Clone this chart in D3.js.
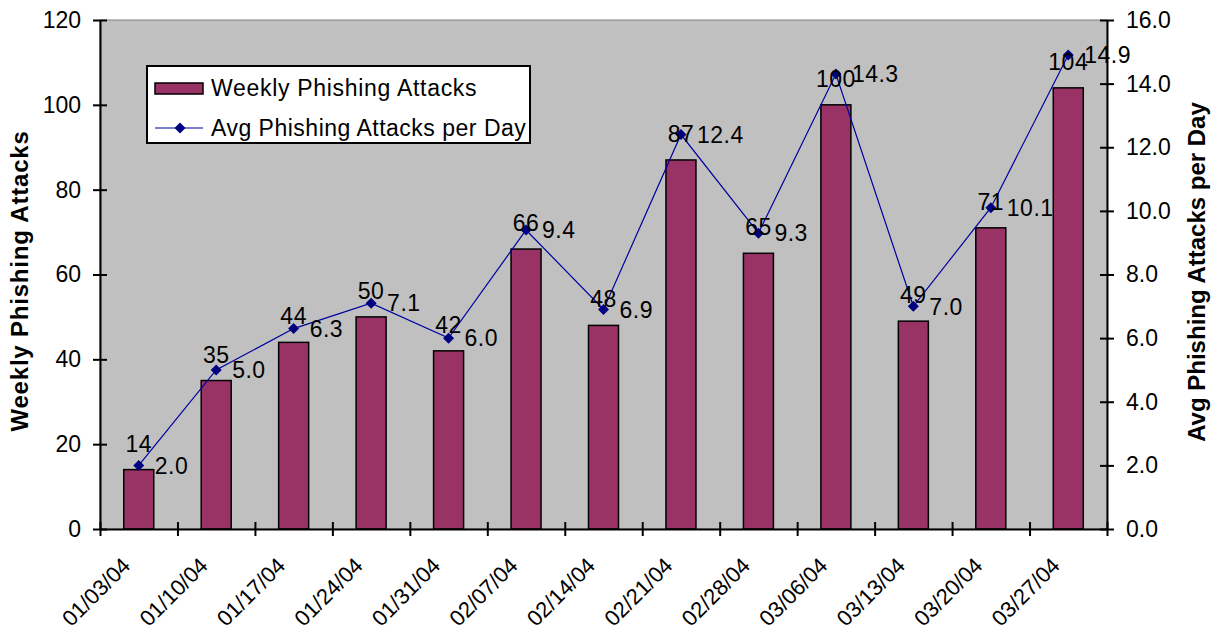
<!DOCTYPE html>
<html>
<head>
<meta charset="utf-8">
<script src="https://cdn.jsdelivr.net/npm/d3@7"></script>
<style>
  body { margin: 0; background: #fff; }
  text { font-family: "Liberation Sans", Arial, sans-serif; fill: #000; }
</style>
</head>
<body>
<div id="chart"></div>
<script>
// data
const weeks = ['01/03/04', '01/10/04', '01/17/04', '01/24/04', '01/31/04', '02/07/04', '02/14/04',
  '02/21/04', '02/28/04', '03/06/04', '03/13/04', '03/20/04', '03/27/04'];
const weekly = [14, 35, 44, 50, 42, 66, 48, 87, 65, 100, 49, 71, 104];
const perDay = [2.0, 5.0, 6.3, 7.1, 6.0, 9.4, 6.9, 12.4, 9.3, 14.3, 7.0, 10.1, 14.9];
const leftTicks = [0, 20, 40, 60, 80, 100, 120];
const rightTicks = [0, 2, 4, 6, 8, 10, 12, 14, 16];

const W = 1211, H = 631;
const m = {top: 20, right: 104, bottom: 102, left: 100};
const iw = W - m.left - m.right;
const ih = H - m.top - m.bottom;

const svg = d3.select('#chart').append('svg')
  .attr('width', W)
  .attr('height', H);

const x = d3.scaleBand().domain(weeks).range([0, iw]).paddingInner(0).paddingOuter(0);
const yL = d3.scaleLinear().domain([0, 120]).range([ih, 0]);
const yR = d3.scaleLinear().domain([0, 16]).range([ih, 0]);

const g = svg.append('g').attr('transform', `translate(${m.left},${m.top})`);

// plot background
g.append('rect')
  .attr('width', iw).attr('height', ih)
  .style('fill', '#c0c0c0')
  .style('stroke', '#808080')
  .style('stroke-width', 1);

// bars
const bw = 30;
g.append('g').selectAll('rect')
  .data(weeks)
  .join('rect')
  .attr('x', (d, i) => x(d) + x.bandwidth() / 2 - bw / 2)
  .attr('y', (d, i) => yL(weekly[i]))
  .attr('width', bw)
  .attr('height', (d, i) => ih - yL(weekly[i]))
  .style('fill', '#993366')
  .style('stroke', '#000')
  .style('stroke-width', 1.5);

// line
const cx = d => x(d) + x.bandwidth() / 2;
const line = d3.line()
  .x((d, i) => cx(weeks[i]))
  .y(d => yR(d));
g.append('path')
  .datum(perDay)
  .attr('d', line)
  .style('fill', 'none')
  .style('stroke', '#0000a0')
  .style('stroke-width', 1.2);

// square-ish diamond like the excel marker
const diamond = 'M0,-5.5L5.5,0L0,5.5L-5.5,0Z';
g.append('g').selectAll('path')
  .data(perDay)
  .join('path')
  .attr('d', diamond)
  .attr('transform', (d, i) => `translate(${cx(weeks[i])},${yR(d)})`)
  .style('fill', '#000080');

// axes
const fs = 23;
const axL = g.append('g').call(d3.axisLeft(yL).tickValues(leftTicks).tickSizeInner(7).tickSizeOuter(0).tickPadding(12));
const axR = g.append('g').attr('transform', `translate(${iw},0)`)
  .call(d3.axisRight(yR).tickValues(rightTicks).tickFormat(d3.format('.1f')).tickSizeInner(7).tickSizeOuter(0).tickPadding(12));
const xTicks = d3.range(weeks.length + 1).map(i => i * x.step());
const axB = g.append('g').attr('transform', `translate(0,${ih})`)
  .call(d3.axisBottom(d3.scaleLinear().domain([0, iw]).range([0, iw])).tickValues(xTicks).tickSize(7).tickSizeOuter(0).tickFormat(''));
[axL, axR, axB].forEach(a => {
  a.select('.domain').style('stroke', '#000').style('stroke-width', 2);
  a.selectAll('.tick line').style('stroke', '#000').style('stroke-width', 2);
  a.selectAll('text').style('font-size', `${fs}px`).style('font-family', '"Liberation Sans", Arial, sans-serif').attr('fill', '#000');
});
// cross ticks
axL.selectAll('.tick line').attr('x1', 7);
axR.selectAll('.tick line').attr('x1', -7);
axB.selectAll('.tick line').attr('y1', -7);

// category labels
g.append('g').selectAll('text')
  .data(weeks)
  .join('text')
  .attr('transform', d => `translate(${cx(d) - 7},${ih + 38}) rotate(-45)`)
  .attr('text-anchor', 'end')
  .style('font-size', '22px')
  .text(d => d);

// data labels
g.append('g').selectAll('text')
  .data(weekly)
  .join('text')
  .attr('x', (d, i) => cx(weeks[i]))
  .attr('y', d => yL(d) - 18)
  .attr('text-anchor', 'middle')
  .style('font-size', '23px')
  .style('letter-spacing', '0.5px')
  .text(d => d);
g.append('g').selectAll('text')
  .data(perDay)
  .join('text')
  .attr('x', (d, i) => cx(weeks[i]) + 16)
  .attr('y', d => yR(d))
  .attr('dy', '0.36em')
  .style('font-size', '23px')
  .style('letter-spacing', '0.5px')
  .text(d => d.toFixed(1));

// axis titles
svg.append('text')
  .attr('transform', `translate(28,${281}) rotate(-90)`)
  .attr('text-anchor', 'middle')
  .style('font-size', '24px')
  .style('font-weight', 'bold')
  .style('letter-spacing', '0.8px')
  .text('Weekly Phishing Attacks');
svg.append('text')
  .attr('transform', `translate(1205,${272}) rotate(-90)`)
  .attr('text-anchor', 'middle')
  .style('font-size', '24px')
  .style('font-weight', 'bold')
  .text('Avg Phishing Attacks per Day');

// legend
const lg = svg.append('g').attr('transform', 'translate(147,66)');
lg.append('rect')
  .attr('width', 383).attr('height', 77)
  .style('fill', '#fff')
  .style('stroke', '#000')
  .style('stroke-width', 2);
lg.append('rect')
  .attr('x', 8).attr('y', 17).attr('width', 48).attr('height', 11)
  .style('fill', '#993366').style('stroke', '#000').style('stroke-width', 1.5);
lg.append('line')
  .attr('x1', 8).attr('x2', 56).attr('y1', 62).attr('y2', 62)
  .style('stroke', '#0000a0').style('stroke-width', 1.2);
lg.append('path')
  .attr('d', diamond)
  .attr('transform', 'translate(33,62)')
  .style('fill', '#000080');
lg.append('text').attr('x', 64).attr('y', 22).attr('dy', '0.36em')
  .style('font-size', `${fs}px`).style('letter-spacing', '0.7px').text('Weekly Phishing Attacks');
lg.append('text').attr('x', 64).attr('y', 62).attr('dy', '0.36em')
  .style('font-size', `${fs}px`).style('letter-spacing', '0.5px').text('Avg Phishing Attacks per Day');
</script>
</body>
</html>
